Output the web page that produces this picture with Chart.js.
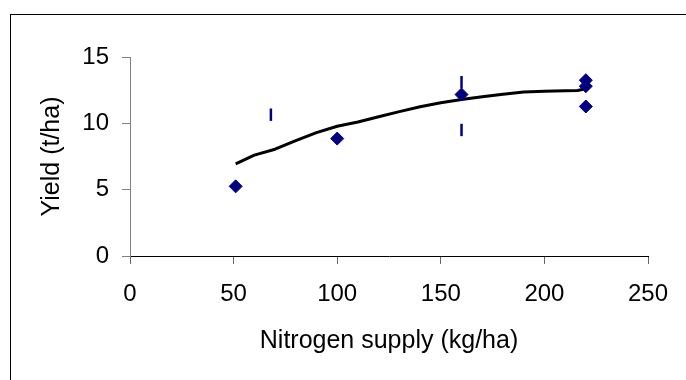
<!DOCTYPE html>
<html>
<head>
<meta charset="utf-8">
<script src="https://cdn.jsdelivr.net/npm/chart.js@4/dist/chart.umd.min.js"></script>
<style>
  body { margin: 0; background: #fff; }
  #wrap { position: relative; width: 686px; height: 380px; overflow: hidden; }
  #frame { position: absolute; left: 10px; top: 14px; width: 700px; height: 400px;
           border-left: 1px solid #000; border-top: 1px solid #000; }
  canvas { position: absolute; left: 0; top: 0; }
</style>
</head>
<body>
<div id="wrap">
  <div id="frame"></div>
  <canvas id="chart" width="686" height="380"></canvas>
</div>
<script>
// measured yields
const obsN = [51, 100, 160, 220, 220, 220];
const obsYield = [5.25, 8.85, 12.17, 13.25, 12.8, 11.27];

// second set of points (dash markers)
const dashN = [68, 160, 160];
const dashYield = [10.65, 13.1, 9.5];

// fitted response curve
const curveN = [51, 60, 70, 80, 90, 100, 110, 120, 130, 140, 150, 160, 170, 180, 190, 200, 210, 216, 220];
const curveYield = [6.95, 7.6, 8.05, 8.7, 9.3, 9.78, 10.1, 10.5, 10.88, 11.25, 11.55, 11.8, 12.0, 12.2, 12.36, 12.42, 12.45, 12.47, 12.6];

const xTicks = [0, 50, 100, 150, 200, 250];
const yTicks = [0, 5, 10, 15];

function pairs(xs, ys) {
  return xs.map((x, i) => ({ x: x, y: ys[i] }));
}

const font = "'Liberation Sans', Arial, sans-serif";

const ctx = document.getElementById("chart").getContext("2d");
new Chart(ctx, {
  type: "scatter",
  data: {
    datasets: [
      {
        data: pairs(obsN, obsYield),
        pointStyle: "rectRot",
        pointRadius: 6.5,
        backgroundColor: "#000080",
        borderColor: "#000080",
        borderWidth: 1
      },
      {
        data: pairs(dashN, dashYield),
        pointStyle: "line",
        pointRotation: 90,
        pointRadius: 6.2,
        borderColor: "#000080",
        borderWidth: 2.5
      },
      {
        data: pairs(curveN, curveYield),
        showLine: true,
        pointRadius: 0,
        borderColor: "#000000",
        borderWidth: 3,
        borderJoinStyle: "round",
        tension: 0
      }
    ]
  },
  options: {
    responsive: false,
    animation: false,
    layout: { padding: { left: 0, top: 57, right: 38, bottom: 24 } },
    plugins: { legend: { display: false }, tooltip: { enabled: false } },
    scales: {
      x: {
        type: "linear",
        min: xTicks[0],
        max: xTicks[xTicks.length - 1],
        afterBuildTicks: s => { s.ticks = xTicks.map(v => ({ value: v })); },
        afterFit: s => { s.height = 100; },
        border: { display: true, color: "#000000", width: 1 },
        grid: { drawOnChartArea: false, drawTicks: true, tickLength: 8, color: "#666666" },
        ticks: { color: "#000", padding: 16, font: { family: font, size: 24 } },
        title: {
          display: true,
          text: "Nitrogen supply (kg/ha)",
          color: "#000",
          padding: { top: 0, bottom: 0 },
          font: { family: font, size: 25 }
        }
      },
      y: {
        type: "linear",
        min: yTicks[0],
        max: yTicks[yTicks.length - 1],
        afterBuildTicks: s => { s.ticks = yTicks.map(v => ({ value: v })); },
        afterFit: s => { s.width = 130; },
        border: { display: true, color: "#808080", width: 1 },
        grid: { drawOnChartArea: false, drawTicks: true, tickLength: 8, color: "#808080" },
        ticks: { color: "#000", padding: 13, font: { family: font, size: 24 } },
        title: {
          display: true,
          text: "Yield (t/ha)",
          color: "#000",
          padding: { top: 37, bottom: 0 },
          font: { family: font, size: 25 }
        }
      }
    }
  }
});
</script>
</body>
</html>
